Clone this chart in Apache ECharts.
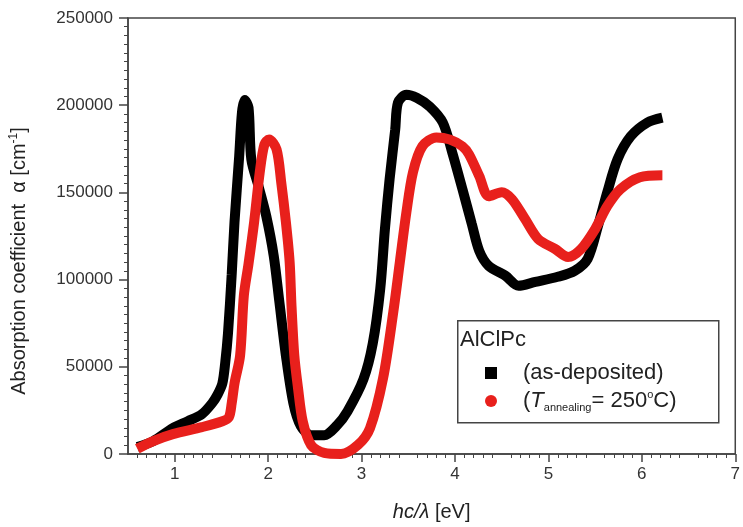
<!DOCTYPE html>
<html>
<head>
<meta charset="utf-8">
<script src="https://cdn.jsdelivr.net/npm/echarts@6/dist/echarts.min.js"></script>
<style>
  html, body { margin: 0; padding: 0; background: #fff; }
  #chart { width: 743px; height: 527px; }
</style>
</head>
<body>
<div id="chart"></div>
<script>
// photon energy [eV] and absorption coefficient [cm^-1]
const asDepX = [0.6, 0.77, 0.98, 1.14, 1.29, 1.40, 1.46, 1.51, 1.54, 1.57, 1.61, 1.64, 1.69, 1.72, 1.75, 1.79, 1.82, 1.90, 1.98, 2.06, 2.12, 2.19, 2.27, 2.35, 2.46, 2.60, 2.74, 2.85, 3.02, 3.12, 3.20, 3.25, 3.30, 3.36, 3.39, 3.48, 3.59, 3.73, 3.87, 3.97, 4.08, 4.18, 4.26, 4.36, 4.54, 4.68, 4.86, 5.10, 5.28, 5.42, 5.53, 5.63, 5.74, 5.88, 6.06, 6.22];
const asDepY = [4000, 7400, 14800, 18800, 22800, 29100, 34200, 40500, 52000, 69000, 103000, 133000, 170700, 196000, 203000, 198600, 169000, 153000, 136400, 113600, 87300, 56500, 29100, 16000, 10800, 10800, 16600, 24500, 42800, 63400, 94800, 129000, 157500, 186000, 201500, 206000, 204300, 199200, 190000, 173000, 151800, 131900, 116400, 107900, 102200, 96500, 98700, 101600, 105000, 111900, 130700, 150100, 169000, 182100, 190100, 192900];

const annX = [0.6, 0.77, 0.98, 1.29, 1.51, 1.58, 1.61, 1.64, 1.70, 1.74, 1.79, 1.85, 1.91, 1.96, 2.01, 2.09, 2.14, 2.19, 2.23, 2.25, 2.28, 2.32, 2.37, 2.46, 2.60, 2.78, 2.96, 3.09, 3.23, 3.34, 3.41, 3.48, 3.55, 3.65, 3.80, 3.94, 4.08, 4.15, 4.26, 4.36, 4.50, 4.61, 4.75, 4.89, 5.07, 5.21, 5.35, 5.50, 5.63, 5.77, 5.98, 6.22];
const annY = [3000, 7400, 11400, 15400, 18800, 21100, 29100, 40500, 56500, 90800, 109000, 133000, 161500, 177500, 180400, 174700, 155800, 133000, 110200, 85000, 56500, 37700, 18800, 5100, 600, 0, 5100, 14800, 43400, 81600, 110200, 138700, 161500, 176400, 181500, 180400, 176400, 171800, 159300, 147800, 150100, 146100, 134700, 123300, 117600, 113000, 117600, 129000, 142100, 151800, 158700, 159800];

const yTicks = [0, 50000, 100000, 150000, 200000, 250000];
const xTicks = [1, 2, 3, 4, 5, 6, 7];

function pairs(xs, ys) {
  return xs.map((x, i) => [x, ys[i]]);
}

const chart = echarts.init(document.getElementById('chart'));
const font = 'Liberation Sans, Arial, sans-serif';
const ink = '#222';

chart.setOption({
  animation: false,
  textStyle: { fontFamily: font },
  grid: {
    left: 125, right: 3, top: 18, bottom: 71,
    show: true, borderColor: '#444', borderWidth: 1.5
  },
  xAxis: {
    type: 'value', min: 0.5, max: 7, interval: 0.5,
    name: '{i|hc/λ} [eV]',
    nameLocation: 'middle', nameGap: 48,
    nameTextStyle: {
      fontSize: 20, color: ink, fontFamily: font,
      rich: { i: { fontStyle: 'italic', fontSize: 20, color: ink, fontFamily: font } }
    },
    axisLine: { lineStyle: { color: '#444', width: 1.5 } },
    axisTick: { length: 8, lineStyle: { color: '#444', width: 1.5 }, customValues: xTicks },
    minorTick: { show: true, splitNumber: 5, length: 4, lineStyle: { color: '#444', width: 1 } },
    axisLabel: { fontSize: 17, color: '#333', margin: 12,
      formatter: v => xTicks.indexOf(v) >= 0 ? String(v) : '' },
    splitLine: { show: false }
  },
  yAxis: {
    type: 'value', min: 0, max: 250000, interval: 50000,
    name: 'Absorption coefficient  α [cm{sup|-1}]',
    nameLocation: 'middle', nameGap: 98,
    nameTextStyle: {
      fontSize: 20, color: ink, fontFamily: font, padding: [0, 50, 0, 0],
      rich: { sup: { fontSize: 12, color: ink, fontFamily: font, padding: [0, 0, 10, 0] } }
    },
    axisLine: { show: true, lineStyle: { color: '#444', width: 1.5 } },
    axisTick: { show: true, length: 9, lineStyle: { color: '#444', width: 1.5 } },
    minorTick: { show: true, splitNumber: 10, length: 4, lineStyle: { color: '#444', width: 1 } },
    axisLabel: { fontSize: 17, color: '#333', margin: 15,
      formatter: v => yTicks.indexOf(v) >= 0 ? String(v) : '' },
    splitLine: { show: false }
  },
  legend: {
    orient: 'vertical', left: 480, top: 356, itemGap: 4,
    itemWidth: 12, itemHeight: 12,
    textStyle: {
      fontSize: 22, color: ink, fontFamily: font, padding: [0, 0, 0, 21], lineHeight: 24,
      rich: {
        it: { fontStyle: 'italic', fontSize: 22, color: ink, fontFamily: font },
        sub: { fontSize: 11, color: ink, fontFamily: font, padding: [14, 0, 0, 0] },
        sup: { fontSize: 11, color: ink, fontFamily: font, padding: [0, 0, 12, 0] },
        n: { fontSize: 22, color: ink, fontFamily: font }
      }
    },
    data: [
      { name: 'as', icon: 'rect' },
      { name: 'ann', icon: 'circle' }
    ],
    formatter: name => name === 'as'
      ? '(as-deposited)'
      : '{n|(}{it|T}{sub|annealing}{n|= 250}{sup|o}{n|C)}'
  },
  graphic: [
    { type: 'rect', left: 457, top: 320, shape: { width: 261, height: 102 },
      style: { fill: 'rgba(0,0,0,0)', stroke: '#444', lineWidth: 1.5 }, z: 10 },
    { type: 'text', left: 460, top: 329,
      style: { text: 'AlClPc', fontSize: 22, fill: ink, fontFamily: font }, z: 10 }
  ],
  series: [
    {
      name: 'as', type: 'line', data: pairs(asDepX, asDepY),
      smooth: 0.3, showSymbol: false, symbol: 'rect', symbolSize: 10,
      itemStyle: { color: '#000' },
      lineStyle: { color: '#000', width: 10 }
    },
    {
      name: 'ann', type: 'line', data: pairs(annX, annY),
      smooth: 0.3, showSymbol: false, symbol: 'circle', symbolSize: 10,
      itemStyle: { color: '#e8201c' },
      lineStyle: { color: '#e8201c', width: 10 }
    }
  ]
});
</script>
</body>
</html>
